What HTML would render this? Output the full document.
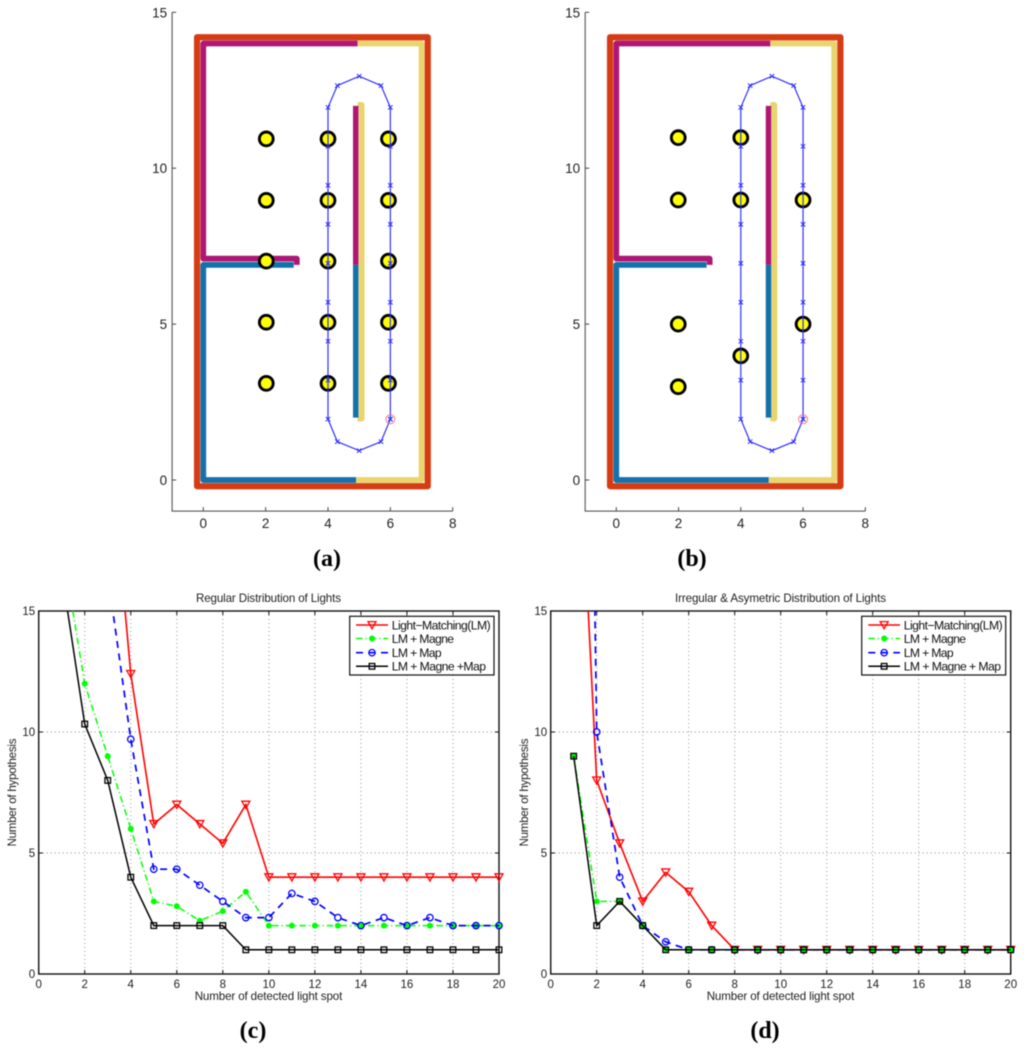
<!DOCTYPE html>
<html>
<head>
<meta charset="utf-8">
<title>Light matching figure</title>
<style>
html,body{margin:0;padding:0;background:#fff;}
svg{display:block;filter:blur(0.45px);}
text{font-family:"Liberation Sans",sans-serif;fill:#222;}
.cap{font-family:"Liberation Serif",serif;font-weight:bold;font-size:24px;fill:#000;}
.small{font-size:11.6px;}
.leg{font-size:12.2px;fill:#111;}
</style>
</head>
<body>
<svg id="fig" xmlns="http://www.w3.org/2000/svg" width="1024" height="1051" viewBox="0 0 1024 1051">
<defs>
<clipPath id="clip-c"><rect x="38.7" y="611" width="460.3" height="363"/></clipPath>
<clipPath id="clip-d"><rect x="550.7" y="611" width="460" height="363"/></clipPath>
</defs>
<rect x="0" y="0" width="1024" height="1051" fill="#fff"/>
<g id="panel-a"></g>
<g id="panel-b"></g>
<g id="panel-c"></g>
<g id="panel-d"></g>

<text class="small" x="268.5" y="602" text-anchor="middle" textLength="145">Regular Distribution of Lights</text>
<text class="small" x="780.5" y="602" text-anchor="middle" textLength="211">Irregular &amp; Asymetric Distribution of Lights</text>
<text class="small" x="268.5" y="1000" text-anchor="middle" textLength="147.6">Number of detected light spot</text>
<text class="small" x="780.5" y="1000" text-anchor="middle" textLength="147.6">Number of detected light spot</text>
<text class="small" transform="translate(16,792.5) rotate(-90)" text-anchor="middle" textLength="108">Number of hypothesis</text>
<text class="small" transform="translate(528,792.5) rotate(-90)" text-anchor="middle" textLength="108">Number of hypothesis</text>

<g id="legend-c">
<rect x="349.7" y="616.3" width="144.3" height="58.7" fill="#fff" stroke="#111" stroke-width="1.2"/>
<text class="leg" x="391.7" y="629.3" textLength="99">Light−Matching(LM)</text>
<text class="leg" x="391.7" y="642.8" textLength="62.3">LM + Magne</text>
<text class="leg" x="391.7" y="657" textLength="50">LM + Map</text>
<text class="leg" x="391.7" y="670.6" textLength="94.3">LM + Magne +Map</text>
</g>
<g id="legend-d">
<rect x="861.7" y="616.3" width="144" height="58.7" fill="#fff" stroke="#111" stroke-width="1.2"/>
<text class="leg" x="903.7" y="629.3" textLength="99">Light−Matching(LM)</text>
<text class="leg" x="903.7" y="642.8" textLength="62.3">LM + Magne</text>
<text class="leg" x="903.7" y="657" textLength="50">LM + Map</text>
<text class="leg" x="903.7" y="670.6" textLength="97.3">LM + Magne + Map</text>
</g>

<text class="cap" x="327" y="566" text-anchor="middle">(a)</text>
<text class="cap" x="692" y="566" text-anchor="middle">(b)</text>
<text class="cap" x="253" y="1038" text-anchor="middle">(c)</text>
<text class="cap" x="765" y="1038" text-anchor="middle">(d)</text>
</svg>
<script>
// ---------- map data (room units) ----------
const mapXTicks = [0, 2, 4, 6, 8];
const mapYTicks = [0, 5, 10, 15];
const pathX = [6, 6, 6, 6, 6, 6, 6, 6, 6, 5.7, 5, 4.3, 4, 4, 4, 4, 4, 4, 4, 4, 4, 4.3, 5, 5.7, 6];
const pathY = [1.95, 3.2, 4.45, 5.7, 6.95, 8.2, 9.45, 10.7, 11.95, 12.65, 12.95, 12.65, 11.95, 10.7, 9.45, 8.2, 6.95, 5.7, 4.45, 3.2, 1.95, 1.23, 0.94, 1.23, 1.95];
const startX = [6];
const startY = [1.95];
const lightsAX = [2.02, 2.02, 2.02, 2.02, 2.02, 4, 4, 4, 4, 4, 5.94, 5.94, 5.94, 5.94, 5.94];
const lightsAY = [10.94, 8.97, 7.02, 5.06, 3.1, 10.94, 8.97, 7.02, 5.06, 3.1, 10.94, 8.97, 7.02, 5.06, 3.1];
const lightsBX = [1.99, 1.99, 1.99, 1.99, 4, 4, 4, 6, 6];
const lightsBY = [10.98, 8.98, 5, 2.99, 10.98, 8.98, 3.98, 8.98, 5];
const outerWallX = [-0.2, 7.2, 7.2, -0.2, -0.2, 7.2];
const outerWallY = [-0.2, -0.2, 14.2, 14.2, -0.2, -0.2];
const purpleWallX = [3, 3, 0, 0, 4.95];
const purpleWallY = [6.9, 7.1, 7.1, 14, 14];
const purpleCoreX = [4.89, 4.89];
const purpleCoreY = [12, 6.9];
const blueWallX = [2.9, 0, 0, 4.9];
const blueWallY = [6.9, 6.9, 0, 0];
const blueCoreX = [4.89, 4.89];
const blueCoreY = [6.9, 2];
const yellowWallX = [4.9, 7, 7, 4.95];
const yellowWallY = [0, 0, 14, 14];
const yellowCoreX = [4.95, 5.08, 5.08, 4.95];
const yellowCoreY = [12.03, 12.03, 1.97, 1.97];

// ---------- chart data ----------
const spots = [1, 2, 3, 4, 5, 6, 7, 8, 9, 10, 11, 12, 13, 14, 15, 16, 17, 18, 19, 20];
const chartXTicks = [0, 2, 4, 6, 8, 10, 12, 14, 16, 18, 20];
const chartYTicks = [0, 5, 10, 15];
const chartXGrid = [2, 4, 6, 8, 10, 12, 14, 16, 18];
const chartYGrid = [5, 10];
const cLight = [60, 40, 23, 12.4, 6.2, 7, 6.2, 5.4, 7, 4, 4, 4, 4, 4, 4, 4, 4, 4, 4, 4];
const cMagne = [17.8, 12, 9, 6, 3, 2.8, 2.2, 2.6, 3.4, 2, 2, 2, 2, 2, 2, 2, 2, 2, 2, 2];
const cMap = [40, 28, 16.5, 9.7, 4.33, 4.33, 3.67, 3, 2.33, 2.33, 3.33, 3, 2.33, 2, 2.33, 2, 2.33, 2, 2, 2];
const cBoth = [16.6, 10.33, 8, 4, 2, 2, 2, 2, 1, 1, 1, 1, 1, 1, 1, 1, 1, 1, 1, 1];
const dLight = [27, 8, 5.4, 3, 4.2, 3.4, 2, 1, 1, 1, 1, 1, 1, 1, 1, 1, 1, 1, 1, 1];
const dMagne = [9, 3, 3, 2, 1, 1, 1, 1, 1, 1, 1, 1, 1, 1, 1, 1, 1, 1, 1, 1];
const dMap = [75, 10, 4, 2, 1.33, 1, 1, 1, 1, 1, 1, 1, 1, 1, 1, 1, 1, 1, 1, 1];
const dBoth = [9, 2, 3, 2, 1, 1, 1, 1, 1, 1, 1, 1, 1, 1, 1, 1, 1, 1, 1, 1];

const NS = 'http://www.w3.org/2000/svg';
function mk(tag, parent, attrs) {
  const el = document.createElementNS(NS, tag);
  for (const k in attrs) el.setAttribute(k, attrs[k]);
  parent.appendChild(el);
  return el;
}
function linearScale(domain0, pixel0, domain1, pixel1) {
  return function (v) { return pixel0 + (v - domain0) * (pixel1 - pixel0) / (domain1 - domain0); };
}
function pts(xs, ys, sx, sy) {
  return xs.map(function (x, i) { return sx(x).toFixed(2) + ',' + sy(ys[i]).toFixed(2); }).join(' ');
}

// ---------- map panels ----------
function drawMap(groupId, x0px, x8px, lightsX, lightsY) {
  const g = document.getElementById(groupId);
  const sx = linearScale(0, x0px, 8, x8px);
  const sy = linearScale(0, 480, 15, 12.3);
  const left = sx(-1), bottom = sy(-1);
  const axisAttrs = { stroke: '#444', 'stroke-width': 1, fill: 'none' };

  const axes = mk('polyline', g, Object.assign({ points: left + ',' + sy(15) + ' ' + left + ',' + bottom + ' ' + sx(8) + ',' + bottom }, axisAttrs));
  
  

  mapXTicks.forEach(function (t) {
    const tick = mk('line', g, Object.assign({ x1: sx(t), x2: sx(t), y1: bottom, y2: bottom - 4 }, axisAttrs));
    
    
    const label = mk('text', g, { x: sx(t), y: 528, 'text-anchor': 'middle', 'font-size': 13.5 });
    label.textContent = String(t);
    
    
  });
  mapYTicks.forEach(function (t) {
    const tick = mk('line', g, Object.assign({ x1: left, x2: left + 4, y1: sy(t), y2: sy(t) }, axisAttrs));
    
    
    const label = mk('text', g, { x: left - 5, y: sy(t) + 5, 'text-anchor': 'end', 'font-size': 13.5 });
    label.textContent = String(t);
    
    
  });

  function wall(xs, ys, color, width, name) {
    const w = mk('polyline', g, { points: pts(xs, ys, sx, sy), fill: 'none', stroke: color, 'stroke-width': width, 'stroke-linejoin': 'round' });
    
    
  }
  wall(outerWallX, outerWallY, '#D63C14', 6.2, 'outer-wall');
  wall(purpleWallX, purpleWallY, '#AE1874', 5.7, 'purple-wall');
  wall(blueWallX, blueWallY, '#1471AA', 5.7, 'blue-wall');
  wall(yellowWallX, yellowWallY, '#E8D56E', 5.7, 'yellow-wall');
  wall(yellowCoreX, yellowCoreY, '#E8D56E', 5.8, 'yellow-center-wall');
  wall(purpleCoreX, purpleCoreY, '#AE1874', 5.5, 'purple-center-wall');
  wall(blueCoreX, blueCoreY, '#1471AA', 5.5, 'blue-center-wall');

  lightsX.forEach(function (x, i) {
    const c = mk('circle', g, { cx: sx(x), cy: sy(lightsY[i]), r: 6.9, fill: '#FFFF00', stroke: '#000', 'stroke-width': 2.9 });
    
    
  });

  const path = mk('polyline', g, { points: pts(pathX, pathY, sx, sy), fill: 'none', stroke: '#2a2aff', 'stroke-width': 1.15 });
  
  
  pathX.forEach(function (x, i) {
    const px = sx(x), py = sy(pathY[i]), s = 2.2;
    const m = mk('path', g, { d: 'M' + (px - s) + ' ' + (py - s) + 'L' + (px + s) + ' ' + (py + s) + 'M' + (px - s) + ' ' + (py + s) + 'L' + (px + s) + ' ' + (py - s), stroke: '#2a2aff', 'stroke-width': 1, fill: 'none' });
    
    
  });
  const start = mk('circle', g, { cx: sx(startX[0]), cy: sy(startY[0]), r: 4.5, fill: 'none', stroke: '#f07070', 'stroke-width': 0.9 });
  
  
}
drawMap('panel-a', 203.3, 452.7, lightsAX, lightsAY);
drawMap('panel-b', 616.3, 865.3, lightsBX, lightsBY);

// ---------- chart panels ----------
const styles = {
  light: { color: '#ff0000', width: 1.6, dash: 'none' },
  magne: { color: '#00ff00', width: 1.5, dash: '6.5 3 1.2 3' },
  map: { color: '#0000ff', width: 1.7, dash: '7 5.5' },
  both: { color: '#000000', width: 1.5, dash: 'none' }
};
function drawMarker(g, kind, px, py) {
  const st = styles[kind];
  let m;
  if (kind === 'light') {
    m = mk('polygon', g, { points: (px - 4) + ',' + (py - 3.4) + ' ' + (px + 4) + ',' + (py - 3.4) + ' ' + px + ',' + (py + 3.8), fill: 'none', stroke: st.color, 'stroke-width': 1.3 });
  } else if (kind === 'magne') {
    m = mk('circle', g, { cx: px, cy: py, r: 3, fill: st.color, stroke: 'none' });
  } else if (kind === 'map') {
    m = mk('circle', g, { cx: px, cy: py, r: 3.2, fill: 'none', stroke: st.color, 'stroke-width': 1.3 });
  } else {
    m = mk('rect', g, { x: px - 2.8, y: py - 2.8, width: 5.6, height: 5.6, fill: 'none', stroke: st.color, 'stroke-width': 1.3 });
  }
  
  
}
function drawChart(groupId, clipId, left, right, seriesList) {
  const g = document.getElementById(groupId);
  const sx = linearScale(0, left, 20, right);
  const sy = linearScale(0, 974, 15, 611);

  chartXGrid.forEach(function (t) {
    const gl = mk('line', g, { x1: sx(t), x2: sx(t), y1: 611, y2: 974, stroke: '#888', 'stroke-width': 0.9, 'stroke-dasharray': '1 3' });
    
    
  });
  chartYGrid.forEach(function (t) {
    const gl = mk('line', g, { x1: left, x2: right, y1: sy(t), y2: sy(t), stroke: '#888', 'stroke-width': 0.9, 'stroke-dasharray': '1 3' });
    
    
  });

  const frame = mk('rect', g, { x: left, y: 611, width: right - left, height: 363, fill: 'none', stroke: '#111', 'stroke-width': 1.4 });
  
  

  chartXTicks.forEach(function (t) {
    const tb = mk('line', g, { x1: sx(t), x2: sx(t), y1: 974, y2: 970, stroke: '#111', 'stroke-width': 1 });
    
    
    const tt = mk('line', g, { x1: sx(t), x2: sx(t), y1: 611, y2: 615, stroke: '#111', 'stroke-width': 1 });
    
    
    const label = mk('text', g, { x: sx(t), y: 988, 'text-anchor': 'middle', 'font-size': 11.5 });
    label.textContent = String(t);
    
    
  });
  chartYTicks.forEach(function (t) {
    const tl = mk('line', g, { x1: left, x2: left + 4, y1: sy(t), y2: sy(t), stroke: '#111', 'stroke-width': 1 });
    
    
    const tr = mk('line', g, { x1: right, x2: right - 4, y1: sy(t), y2: sy(t), stroke: '#111', 'stroke-width': 1 });
    
    
    const label = mk('text', g, { x: left - 3.5, y: sy(t) + 4, 'text-anchor': 'end', 'font-size': 11.5 });
    label.textContent = String(t);
    
    
  });

  seriesList.forEach(function (s) {
    const st = styles[s.kind];
    const line = mk('polyline', g, { points: pts(spots, s.values, sx, sy), fill: 'none', stroke: st.color, 'stroke-width': st.width, 'clip-path': 'url(#' + clipId + ')' });
    if (st.dash !== 'none') line.setAttribute('stroke-dasharray', st.dash);
    
    
    spots.forEach(function (x, i) {
      if (s.values[i] <= 15) drawMarker(g, s.kind, sx(x), sy(s.values[i]));
    });
  });
}
drawChart('panel-c', 'clip-c', 38.7, 499, [
  { kind: 'light', values: cLight },
  { kind: 'magne', values: cMagne },
  { kind: 'map', values: cMap },
  { kind: 'both', values: cBoth }
]);
drawChart('panel-d', 'clip-d', 550.7, 1010.7, [
  { kind: 'light', values: dLight },
  { kind: 'map', values: dMap },
  { kind: 'magne', values: dMagne },
  { kind: 'both', values: dBoth }
]);

// ---------- legend samples ----------
const legendKinds = ['light', 'magne', 'map', 'both'];
const legendRows = [625, 638.5, 652.7, 666.3];
function drawLegendSamples(groupId, x1, x2) {
  const g = document.getElementById(groupId);
  legendKinds.forEach(function (kind, i) {
    const st = styles[kind];
    const line = mk('line', g, { x1: x1, x2: x2, y1: legendRows[i], y2: legendRows[i], stroke: st.color, 'stroke-width': st.width });
    if (st.dash !== 'none') line.setAttribute('stroke-dasharray', st.dash);
    
    
    drawMarker(g, kind, (x1 + x2) / 2, legendRows[i]);
  });
}
drawLegendSamples('legend-c', 356, 388);
drawLegendSamples('legend-d', 868.3, 900);
</script>
</body>
</html>
